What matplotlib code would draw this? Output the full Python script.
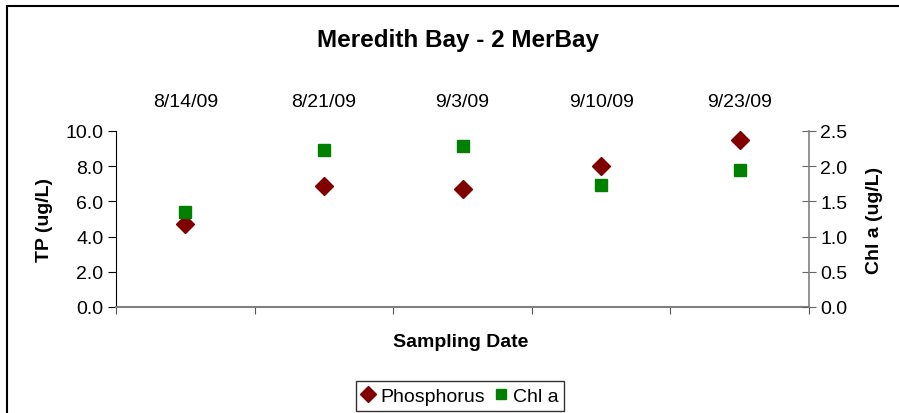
import matplotlib
matplotlib.use("Agg")
import matplotlib.pyplot as plt
from matplotlib.patches import Rectangle

dates = ["8/14/09", "8/21/09", "9/3/09", "9/10/09", "9/23/09"]
phosphorus = [4.7, 6.9, 6.7, 8.0, 9.5]
chl_a = [1.35, 2.23, 2.29, 1.73, 1.95]
tp_ticks = [0.0, 2.0, 4.0, 6.0, 8.0, 10.0]
chl_ticks = [0.0, 0.5, 1.0, 1.5, 2.0, 2.5]

plt.rcParams['font.family'] = ['Liberation Sans', 'DejaVu Sans']

fig = plt.figure(figsize=(8.99, 4.14), dpi=100)
W, H = 899, 414
ax = fig.add_axes([116/W, 1-308/H, (809-116)/W, 176/H])
ax2 = ax.twinx()

FS = 14
x = list(range(len(dates)))
l1, = ax.plot(x, phosphorus, linestyle='none', marker='D', markersize=9,
              color='#800000', label='Phosphorus')
l2, = ax2.plot(x, chl_a, linestyle='none', marker='s', markersize=8,
               color='#008000', label='Chl a')

ax.set_xlim(-0.5, len(dates)-0.5)
ax.set_ylim(0, 10)
ax2.set_ylim(0, 2.5)
ax.set_yticks(tp_ticks)
ax.set_yticklabels([f"{v:.1f}" for v in tp_ticks], fontsize=FS)
ax2.set_yticks(chl_ticks)
ax2.set_yticklabels([f"{v:.1f}" for v in chl_ticks], fontsize=FS)
ax.set_xticks([i-0.5 for i in range(len(dates)+1)])
ax.set_xticklabels([])
ax.tick_params(axis='x', direction='out', length=5, color='#555555')
ax.tick_params(axis='y', direction='out', length=6, color='black', pad=3)
ax2.tick_params(axis='y', direction='inout', length=10, color='#666666', pad=3)

ax.spines['top'].set_visible(False)
ax2.spines['top'].set_visible(False)
ax.spines['right'].set_visible(False)
ax.spines['left'].set_color('black')
ax.spines['bottom'].set_color('#808080')
ax.spines['bottom'].set_linewidth(1.5)
ax2.spines['left'].set_visible(False)
ax2.spines['bottom'].set_visible(False)
ax2.spines['right'].set_color('#808080')
ax2.spines['right'].set_linewidth(1.2)

for i, d in enumerate(dates):
    ax.text(i, 1.17, d, ha='center', va='center', fontsize=FS,
            transform=ax.get_xaxis_transform())

ax.set_ylabel("TP (ug/L)", fontsize=FS, fontweight='bold')
ax.yaxis.set_label_coords((53-116)/693, 0.5)
ax2.set_ylabel("Chl a (ug/L)", fontsize=FS, fontweight='bold')
ax2.yaxis.set_label_coords((866-116)/693, 0.5)
ax.set_xlabel("Sampling Date", fontsize=FS, fontweight='bold')
ax.xaxis.set_label_coords((461-116)/693, -(334-308)/176)

fig.text(458/W, 1-40/H, "Meredith Bay - 2 MerBay", ha='center', va='center',
         fontsize=17.5, fontweight='bold')

leg = fig.legend(handles=[l1, l2], loc='center', bbox_to_anchor=(460/W, 1-397/H),
                 ncol=2, frameon=True, fancybox=False, fontsize=FS,
                 handlelength=0.7, handletextpad=0.25, columnspacing=0.5,
                 borderpad=0.3, markerscale=0.85)
leg.get_frame().set_edgecolor('black')
leg.get_frame().set_linewidth(1.0)

fig.patches.append(Rectangle((7/W, -0.1), 1.2, 1-7/H+0.1, transform=fig.transFigure,
                             fill=False, edgecolor='black', linewidth=1.5))

fig.savefig("out.png", dpi=100)
